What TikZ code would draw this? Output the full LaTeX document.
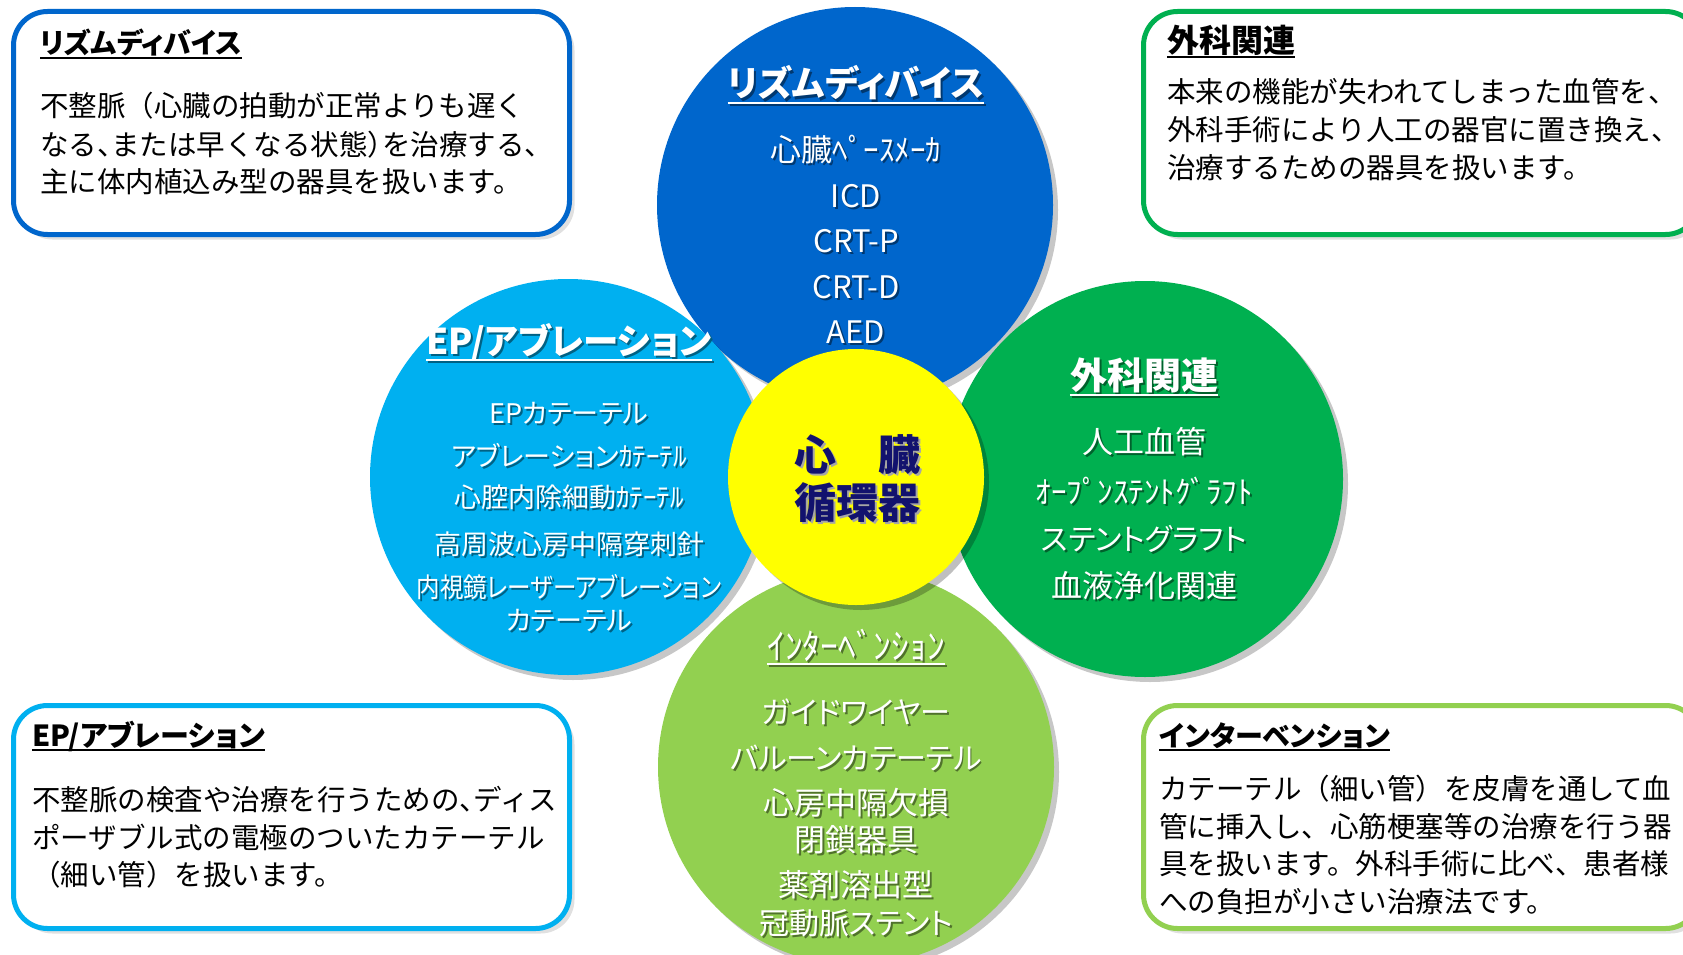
\documentclass[tikz,border=0pt]{standalone}
\usepackage{fontspec}
\usepackage{graphicx}
\setmainfont{Noto Sans CJK JP}
\newfontfamily\jpp{Noto Sans CJK JP}[RawFeature=+palt]
\usetikzlibrary{shadows}
\definecolor{cBlue}{HTML}{0066CC}
\definecolor{cLBlue}{HTML}{00B0F0}
\definecolor{cGreen}{HTML}{00B050}
\definecolor{cLGreen}{HTML}{92D050}
\definecolor{cYel}{HTML}{FFFF00}
\definecolor{cNavy}{HTML}{12126E}
\colorlet{tsc}{black}
\newcommand\ts[1]{\leavevmode\rlap{\kern2pt\raisebox{-2pt}{\color{tsc}#1}}#1}
\newcommand\hc{\makebox[0.5em][l]{、}}
\newcommand\hp{\makebox[0.5em][l]{）}}
\begin{document}
\begin{tikzpicture}[x=1pt,y=-1pt,
  bigc/.style={circle, fill=#1, minimum size=396pt, inner sep=0pt, outer sep=0pt,
    drop shadow={shadow xshift=5pt, shadow yshift=-5pt, fill=black, opacity=0.22}},
  infobox/.style={draw=#1, line width=5pt, fill=white, rounded corners=34pt, inner sep=0pt,
    outer sep=0pt, anchor=north west, minimum width=556pt, minimum height=223pt,
    drop shadow={shadow xshift=5pt, shadow yshift=-5pt, fill=black, opacity=0.12}},
  btitle/.style={anchor=base west, inner sep=0pt, font=\jpp\bfseries\fontsize{29}{36}\selectfont},
  btext/.style={anchor=base west, inner sep=0pt, font=\fontsize{28.5}{34}\selectfont},
  shc/.style={execute at begin node={\colorlet{tsc}{#1}}},
  ctitle/.style={anchor=base, inner sep=0pt, text=white, font=\jpp\bfseries\fontsize{35.5}{44}\selectfont},
  citem/.style={anchor=base, inner sep=0pt, text=white, font=\jpp\fontsize{31}{37}\selectfont},
  gitem/.style={anchor=base, inner sep=0pt, text=white, font=\jpp\fontsize{30}{37}\selectfont},
  sitem/.style={anchor=base, inner sep=0pt, text=white, font=\jpp\fontsize{27}{32}\selectfont},
  ctext/.style={anchor=base, inner sep=0pt, text=cNavy, font=\bfseries\fontsize{42}{50}\selectfont, shc=black!35},
  ul/.style={line width=2.5pt, draw=white},
  bul/.style={line width=2pt, draw=black}
]
\path[use as bounding box, fill=white] (0,0) rectangle (1683,955);
\clip (0,0) rectangle (1683,955);

% info boxes
\node[infobox=cBlue] (boxTL) at (13.5,11.5) {};
\node[infobox=cGreen] (boxTR) at (1143.5,11.5) {};
\node[infobox=cLBlue] (boxBL) at (13.5,705.5) {};
\node[infobox=cLGreen] (boxBR) at (1143.5,705.5) {};

% box texts
\node[btitle, font=\jpp\bfseries\fontsize{28}{36}\selectfont] (tlT) at (40,54) {リズムディバイス};
\draw[bul] ([yshift=-4pt]tlT.base west) -- ([yshift=-4pt]tlT.base east);
\node[btext] (tl1) at (40,117) {不整脈（心臓の拍動が正常よりも遅く};
\node[btext] (tl2) at (40,155) {なる\hc または早くなる状態\hp を治療する、};
\node[btext] (tl3) at (40,192) {主に体内植込み型の器具を扱います。};

\node[btitle, font=\jpp\bfseries\fontsize{32}{36}\selectfont] (trT) at (1167,53) {外科関連};
\draw[bul] ([yshift=-4pt]trT.base west) -- ([yshift=-4pt]trT.base east);
\node[btext] (tr1) at (1167,103) {本来の機能が失われてしまった血管を、};
\node[btext] (tr2) at (1167,140) {外科手術により人工の器官に置き換え、};
\node[btext] (tr3) at (1167,178) {治療するための器具を扱います。};

\node[btitle] (blT) at (32,746) {EP/アブレーション};
\draw[bul] ([yshift=-4pt]blT.base west) -- ([yshift=-4pt]blT.base east);
\node[btext] (bl1) at (32,810) {不整脈の検査や治療を行うための\hc ディス};
\node[btext] (bl2) at (32,848) {ポーザブル式の電極のついたカテーテル};
\node[btext] (bl3) at (32,885) {（細い管）を扱います。};

\node[btitle, font=\jpp\bfseries\fontsize{28}{36}\selectfont] (brT) at (1159,746) {インターベンション};
\draw[bul] ([yshift=-4pt]brT.base west) -- ([yshift=-4pt]brT.base east);
\node[btext] (br1) at (1159,799) {カテーテル（細い管）を皮膚を通して血};
\node[btext] (br2) at (1159,837) {管に挿入し、心筋梗塞等の治療を行う器};
\node[btext] (br3) at (1159,874) {具を扱います。外科手術に比べ、患者様};
\node[btext] (br4) at (1159,912) {への負担が小さい治療法です。};

% circles
\node[bigc=cBlue] (cB) at (855,205) {};
\node[bigc=cLBlue] (cLB) at (568,477) {};
\node[bigc=cGreen] (cG) at (1145,479) {};
\node[bigc=cLGreen] (cLG) at (856,767) {};

% blue circle texts
\begin{scope}[every node/.append style={shc=cBlue!55!black}]
\node[ctitle] (bT) at (856,97) {\ts{リズムディバイス}};
\draw[ul, draw=cBlue!55!black] ([xshift=2pt,yshift=-8pt]bT.base west) -- ([xshift=2pt,yshift=-8pt]bT.base east);
\draw[ul] ([yshift=-6pt]bT.base west) -- ([yshift=-6pt]bT.base east);
\node[citem] (b1) at (856,161) {\ts{心臓ﾍﾟｰｽﾒｰｶ}};
\node[citem] (b2) at (856,207) {\ts{ICD}};
\node[citem] (b3) at (856,252) {\ts{CRT-P}};
\node[citem] (b4) at (856,298) {\ts{CRT-D}};
\node[citem] (b5) at (856,343) {\ts{AED}};
\end{scope}

% light blue circle texts
\begin{scope}[every node/.append style={shc=cLBlue!55!black}]
\node[ctitle] (lbT) at (569,354) {\ts{EP/アブレーション}};
\draw[ul, draw=cLBlue!55!black] ([xshift=2pt,yshift=-8pt]lbT.base west) -- ([xshift=2pt,yshift=-8pt]lbT.base east);
\draw[ul] ([yshift=-6pt]lbT.base west) -- ([yshift=-6pt]lbT.base east);
\node[sitem] (lb1) at (569,423) {\ts{EPカテーテル}};
\node[sitem] (lb2) at (569,466) {\ts{アブレーションｶﾃｰﾃﾙ}};
\node[sitem] (lb3) at (569,507) {\ts{心腔内除細動ｶﾃｰﾃﾙ}};
\node[sitem] (lb4) at (569,554) {\ts{高周波心房中隔穿刺針}};
\node[sitem] (lb5) at (569,597) {\scalebox{0.87}[1]{\ts{内視鏡レーザーアブレーション}}};
\node[sitem] (lb6) at (569,630) {\ts{カテーテル}};
\end{scope}

% green circle texts
\begin{scope}[every node/.append style={shc=cGreen!55!black}]
\node[ctitle, font=\jpp\bfseries\fontsize{37}{44}\selectfont] (gT) at (1144,389) {\ts{外科関連}};
\draw[ul, draw=cGreen!55!black] ([xshift=2pt,yshift=-8pt]gT.base west) -- ([xshift=2pt,yshift=-8pt]gT.base east);
\draw[ul] ([yshift=-6pt]gT.base west) -- ([yshift=-6pt]gT.base east);
\node[citem] (g1) at (1144,453) {\ts{人工血管}};
\node[citem] (g2) at (1144,503) {\ts{ｵｰﾌﾟﾝｽﾃﾝﾄｸﾞﾗﾌﾄ}};
\node[gitem] (g3) at (1144,550) {\ts{ステントグラフト}};
\node[citem] (g4) at (1144,597) {\ts{血液浄化関連}};
\end{scope}

% light green circle texts
\begin{scope}[every node/.append style={shc=cLGreen!55!black}]
\node[ctitle, font=\jpp\fontsize{35.5}{40}\selectfont] (lgT) at (856,659) {\ts{ｲﾝﾀｰﾍﾞﾝｼｮﾝ}};
\draw[ul, draw=cLGreen!55!black] ([xshift=2pt,yshift=-7pt]lgT.base west) -- ([xshift=2pt,yshift=-7pt]lgT.base east);
\draw[ul] ([yshift=-5pt]lgT.base west) -- ([yshift=-5pt]lgT.base east);
\node[gitem] (lg1) at (856,723) {\ts{ガイドワイヤー}};
\node[gitem] (lg2) at (856,769) {\ts{バルーンカテーテル}};
\node[citem] (lg3) at (856,814) {\ts{心房中隔欠損}};
\node[citem] (lg4) at (856,851) {\ts{閉鎖器具}};
\node[citem] (lg5) at (856,896) {\ts{薬剤溶出型}};
\node[gitem] (lg6) at (856,934) {\ts{冠動脈ステント}};
\end{scope}

% centre
\node[circle, fill=cYel, minimum size=256pt, inner sep=0pt,
  drop shadow={shadow xshift=5pt, shadow yshift=-5pt, fill=black, opacity=0.25}] (cY) at (856,477) {};
\node[ctext] (y1) at (857,470) {\ts{心　臓}};
\node[ctext] (y2) at (857,518) {\ts{循環器}};
\end{tikzpicture}
\end{document}
